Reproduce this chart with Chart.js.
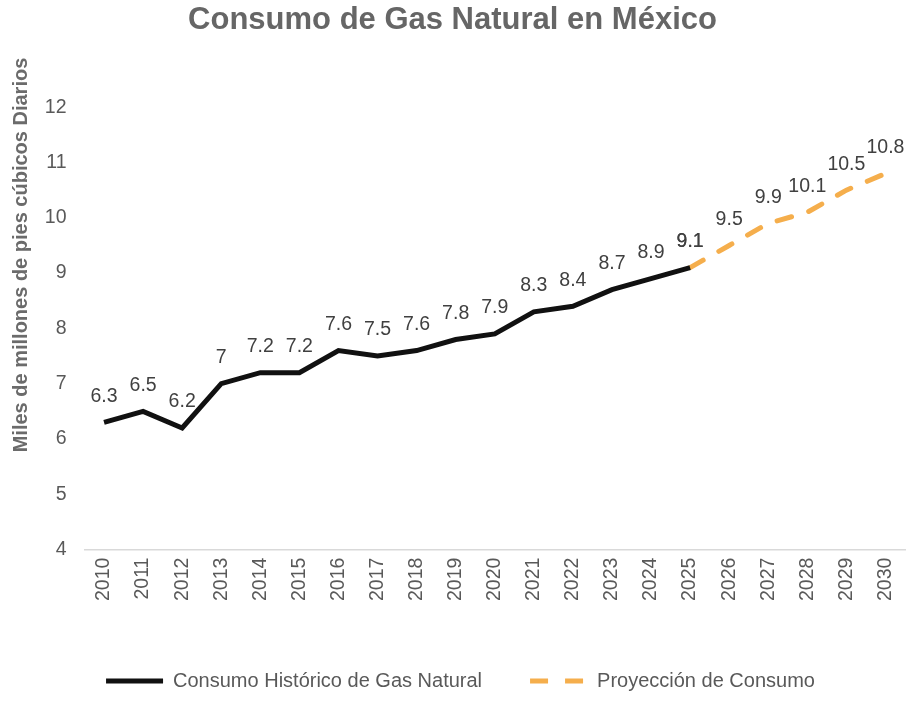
<!DOCTYPE html>
<html lang="es">
<head>
    <meta charset="UTF-8">
    <title>Consumo de Gas Natural en México</title>
    <script src="https://cdn.jsdelivr.net/npm/chart.js"></script>
    <style>
        html, body {
            margin: 0;
            padding: 0;
            background: #ffffff;
        }
        #wrap {
            width: 920px;
            height: 702px;
        }
    </style>
</head>
<body>
    <div id="wrap"><canvas id="gasChart"></canvas></div>
    <script>
        const years = ["2010", "2011", "2012", "2013", "2014", "2015", "2016", "2017", "2018", "2019", "2020",
                       "2021", "2022", "2023", "2024", "2025", "2026", "2027", "2028", "2029", "2030"];
        const historico = [6.3, 6.5, 6.2, 7, 7.2, 7.2, 7.6, 7.5, 7.6, 7.8, 7.9, 8.3, 8.4, 8.7, 8.9, 9.1,
                           null, null, null, null, null];
        const proyeccion = [null, null, null, null, null, null, null, null, null, null, null, null, null, null, null,
                            9.1, 9.5, 9.9, 10.1, 10.5, 10.8];
        const yTitle = "Miles de millones de pies cúbicos Diarios";

        const FONT = "'Liberation Sans', Arial, sans-serif";

        // values written above each point
        const pointLabels = {
            id: "pointLabels",
            afterDatasetsDraw(chart) {
                const ctx = chart.ctx;
                ctx.save();
                ctx.font = "19.5px " + FONT;
                ctx.fillStyle = "#404040";
                ctx.textAlign = "center";
                ctx.textBaseline = "middle";
                chart.data.datasets.forEach((ds, i) => {
                    const meta = chart.getDatasetMeta(i);
                    meta.data.forEach((pt, j) => {
                        const v = ds.data[j];
                        if (v === null || v === undefined) return;
                        ctx.fillText(String(v), pt.x, pt.y - 26);
                    });
                });
                ctx.restore();
            }
        };

        // rotated axis title, placed like the original
        const axisTitle = {
            id: "axisTitle",
            afterLayout(chart) {
                // legend sits a bit right of centre in the original
                chart.legend.left += 16;
            },
            afterDraw(chart) {
                const ctx = chart.ctx;
                ctx.save();
                ctx.translate(21, 255);
                ctx.rotate(-Math.PI / 2);
                ctx.font = "bold 20px " + FONT;
                ctx.fillStyle = "#6b6b6b";
                ctx.textAlign = "center";
                ctx.textBaseline = "middle";
                ctx.fillText(yTitle, 0, 0);
                ctx.restore();
            }
        };

        new Chart(document.getElementById("gasChart"), {
            type: "line",
            data: {
                labels: years,
                datasets: [{
                    label: "Consumo Histórico de Gas Natural",
                    data: historico,
                    borderColor: "#111111",
                    backgroundColor: "#111111",
                    borderWidth: 5,
                    pointRadius: 0,
                    pointStyle: "line",
                    tension: 0
                }, {
                    label: "Proyección de Consumo",
                    data: proyeccion,
                    borderColor: "#f5ae4c",
                    backgroundColor: "#f5ae4c",
                    borderWidth: 5,
                    borderDash: [15, 18],
                    borderCapStyle: "round",
                    pointRadius: 0,
                    pointStyle: "line",
                    tension: 0
                }]
            },
            options: {
                responsive: true,
                maintainAspectRatio: false,
                animation: false,
                layout: {
                    padding: { top: 0, left: 0, right: 15, bottom: 1 }
                },
                plugins: {
                    title: {
                        display: true,
                        text: "Consumo de Gas Natural en México",
                        color: "#666666",
                        font: { family: FONT, size: 31, weight: "bold" },
                        padding: { top: 2, bottom: 68 }
                    },
                    legend: {
                        position: "bottom",
                        labels: {
                            usePointStyle: true,
                            pointStyleWidth: 57,
                            color: "#595959",
                            font: { family: FONT, size: 20 },
                            padding: 48,
                            generateLabels(chart) {
                                const items = Chart.defaults.plugins.legend.labels.generateLabels(chart);
                                items.forEach((it, i) => {
                                    it.lineWidth = 5;
                                    it.lineCap = "butt";
                                    it.lineDash = i === 1 ? [18, 17] : [];
                                });
                                return items;
                            }
                        }
                    },
                    tooltip: { enabled: false }
                },
                scales: {
                    x: {
                        offset: true,
                        grid: { display: false, drawTicks: false, offset: true },
                        border: { display: true, color: "#d9d9d9", width: 1.5 },
                        afterFit(scale) { scale.height += 14; },
                        ticks: {
                            color: "#595959",
                            font: { family: FONT, size: 19.5 },
                            maxRotation: 90,
                            minRotation: 90,
                            autoSkip: false,
                            padding: 8
                        }
                    },
                    y: {
                        min: 4,
                        max: 12,
                        grid: { display: false, drawTicks: false },
                        border: { display: false },
                        afterFit(scale) { scale.width = 84.5; },
                        ticks: {
                            stepSize: 1,
                            color: "#595959",
                            font: { family: FONT, size: 19.5 },
                            padding: 18
                        }
                    }
                }
            },
            plugins: [pointLabels, axisTitle]
        });
    </script>
</body>
</html>
